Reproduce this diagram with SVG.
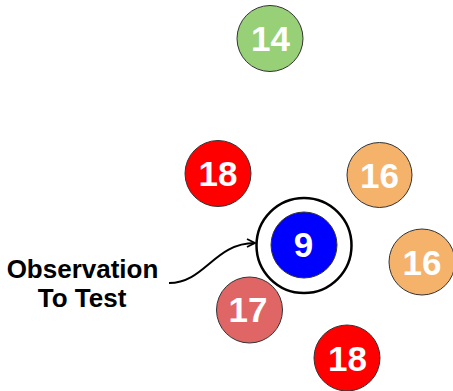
<svg xmlns="http://www.w3.org/2000/svg" width="453" height="391" viewBox="0 0 453 391">
<defs>
<style>
.c{stroke:#333;stroke-width:1}
.n{font-family:"Liberation Sans",Arial,sans-serif;font-weight:bold;font-size:35px;fill:#fff;text-anchor:middle}
.l{font-family:"Liberation Sans",Arial,sans-serif;font-weight:bold;font-size:26px;fill:#000;text-anchor:middle}
</style>
<marker id="arr" viewBox="0 0 10 10" refX="9" refY="5" markerWidth="10" markerHeight="10" markerUnits="userSpaceOnUse" orient="auto">
<path d="M1,1 L9,5 L1,9" fill="none" stroke="#000" stroke-width="1.8"/>
</marker>
</defs>
<rect width="453" height="391" fill="#fff"/>
<g id="n14"><circle class="c" cx="270" cy="38.5" r="33" fill="#97D077"/><text class="n" x="270.5" y="51">14</text></g>
<g id="n18a"><circle class="c" cx="218" cy="173.5" r="33" fill="#FF0000"/><text class="n" x="218" y="186">18</text></g>
<g id="n16a"><circle class="c" cx="379.5" cy="175" r="32.5" fill="#F4B26B"/><text class="n" x="379.5" y="188">16</text></g>
<g id="n16b"><circle class="c" cx="422" cy="262" r="33" fill="#F4B26B"/><text class="n" x="422" y="275">16</text></g>
<g id="n9"><circle cx="304" cy="245.5" r="47.5" fill="#fff" stroke="#000" stroke-width="2.5"/><circle class="c" cx="304" cy="245" r="33" fill="#0000FF"/><text class="n" x="303.5" y="257">9</text></g>
<g id="n17"><circle class="c" cx="249.5" cy="310" r="33" fill="#E06666"/><text class="n" x="248" y="322">17</text></g>
<g id="n18b"><circle class="c" cx="347" cy="358" r="33" fill="#FF0000"/><text class="n" x="347.5" y="371">18</text></g>
<g id="label"><text class="l" x="82.5" y="278">Observation</text><text class="l" x="82" y="307">To Test</text></g>
<g id="connectors"><path d="M169,283 C205,283 214,243 255,243" fill="none" stroke="#000" stroke-width="2" marker-end="url(#arr)"/></g>
</svg>
